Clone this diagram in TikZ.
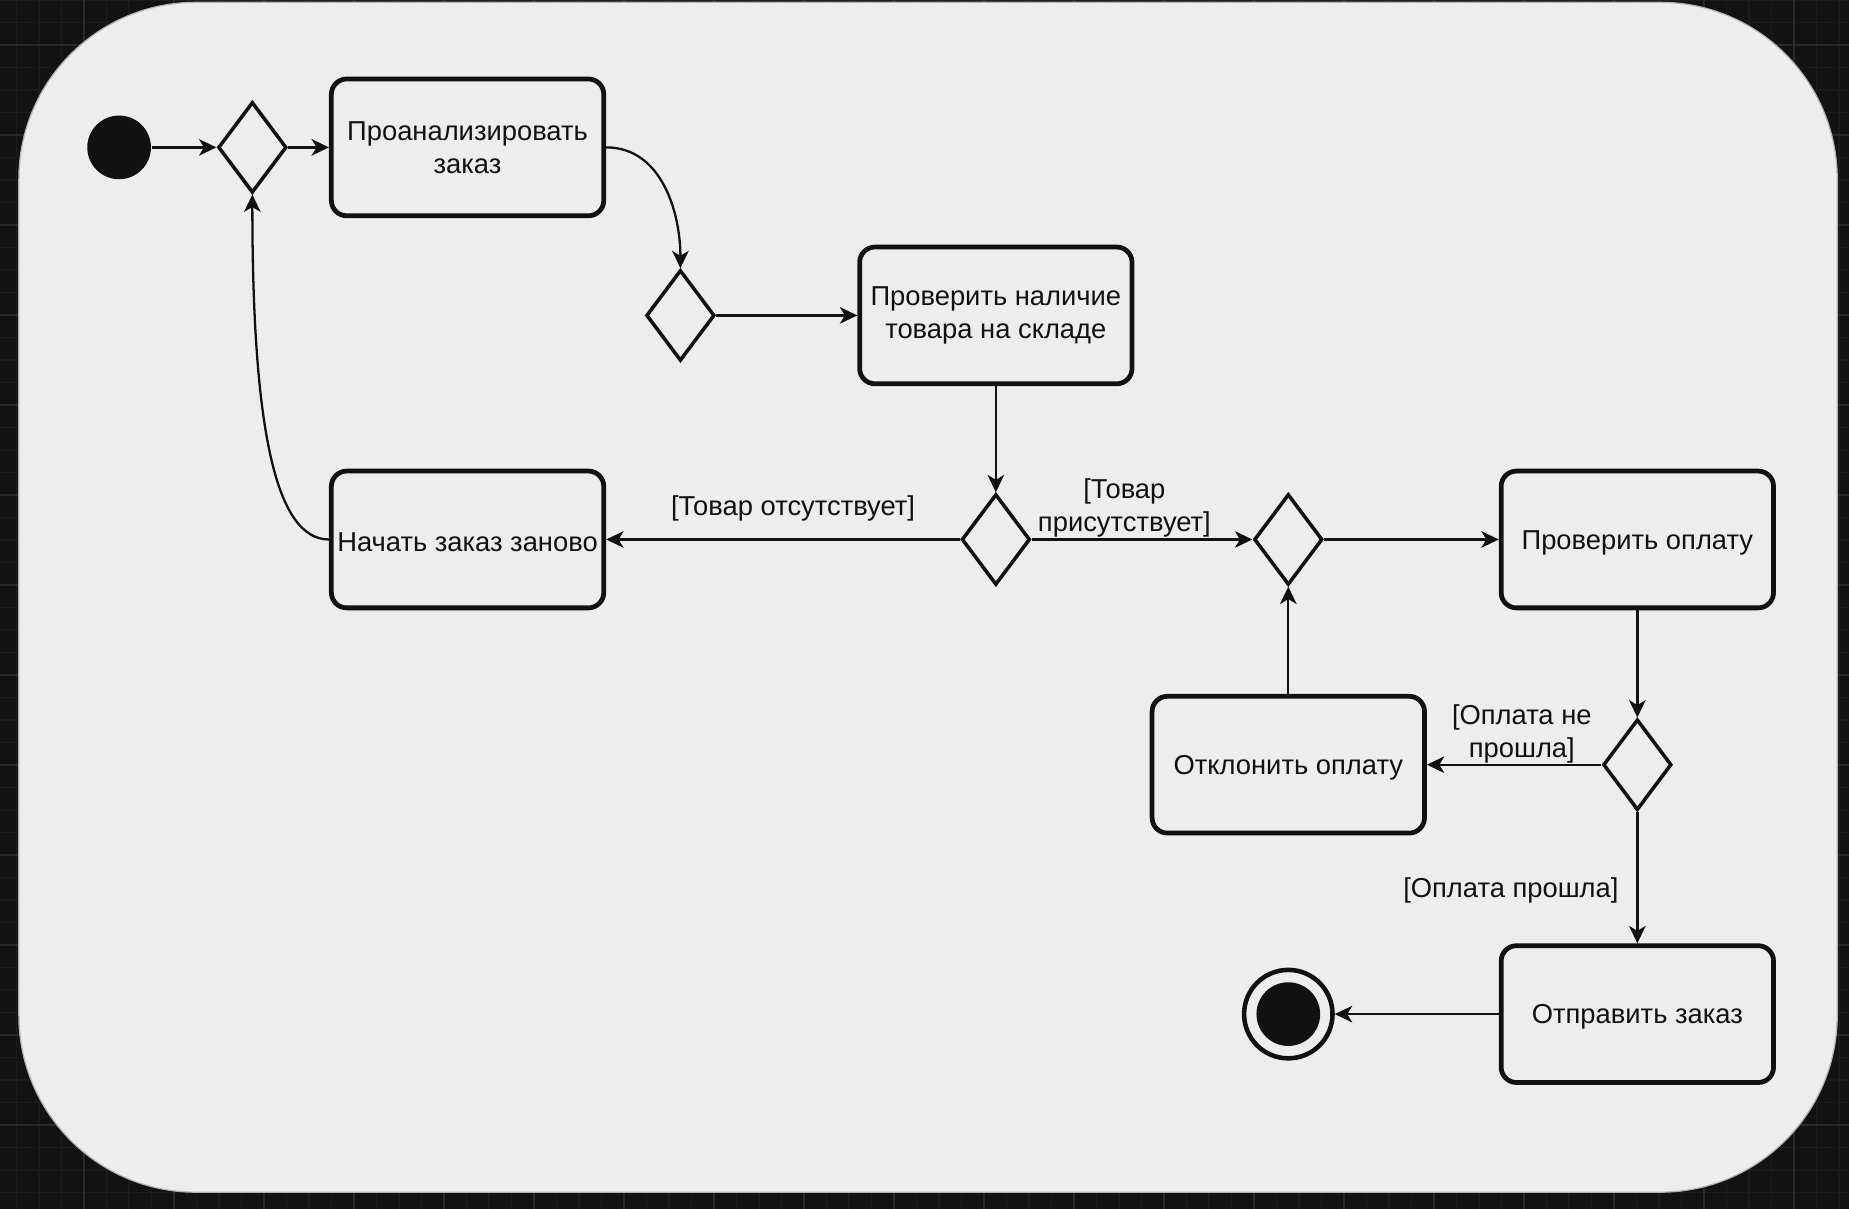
\documentclass[tikz,border=0pt]{standalone}
\usepackage{fontspec}
\setmainfont{Liberation Sans}
\usetikzlibrary{shapes.geometric, arrows.meta}
\tikzset{>={Stealth[length=4.2pt,width=4pt,inset=1.2pt]}}
\definecolor{bgdark}{HTML}{121212}
\definecolor{gridminor}{HTML}{1B1B1B}
\definecolor{gridmajor}{HTML}{2A2A2A}
\definecolor{panel}{HTML}{EDEDED}
\definecolor{ink}{HTML}{111111}
\tikzset{
    action/.style={draw=ink, line width=1.15pt, rounded corners=0.13cm, minimum width=2.31cm, minimum height=1.16cm, align=center, inner sep=0pt, text=ink, font=\fontsize{6.6}{8}\selectfont,
        execute at begin node={\rule{0pt}{6.1pt}}},
    decision/.style={diamond, draw=ink, line width=0.85pt, minimum width=0.58cm, minimum height=0.77cm, inner sep=0pt},
    flow/.style={->, draw=ink, line width=0.55pt},
    guard/.style={align=center, inner sep=0pt, text=ink, font=\fontsize{6.6}{8}\selectfont}
}

\begin{document}
\begin{tikzpicture}
    \useasboundingbox (0,0) rectangle (15.68,10.25);
    \fill[bgdark] (0,0) rectangle (15.68,10.25);
    \foreach \i in {-3,...,79}
    \draw[gridminor, line width=0.4pt] ({0.713+0.1908*\i},0) -- ({0.713+0.1908*\i},10.25);
    \foreach \j in {-3,...,50}
    \draw[gridminor, line width=0.4pt] (0,{0.71+0.1908*\j}) -- (15.68,{0.71+0.1908*\j});
    \foreach \i in {-1,...,20}
    \draw[gridmajor, line width=0.4pt] ({0.713+0.7632*\i},0) -- ({0.713+0.7632*\i},10.25);
    \foreach \j in {-1,...,13}
    \draw[gridmajor, line width=0.4pt] (0,{0.71+0.7632*\j}) -- (15.68,{0.71+0.7632*\j});
    \filldraw[fill=panel, draw=gray!60, line width=0.3pt, rounded corners=1.5cm] (0.16,0.14) rectangle (15.58,10.23);

    % initial and final states
    \node[circle, fill=ink, minimum size=0.54cm, inner sep=0pt] (start) at (1.01,9) {};
    \node[circle, draw=ink, line width=1.1pt, minimum size=0.75cm, inner sep=0pt,
        path picture={\fill[ink] (path picture bounding box.center) circle (0.27cm);}] (finish) at (10.925,1.65) {};

    % actions
    \node[action] (analyze) at (3.965,9) {Проанализировать\\заказ};
    \node[action] (stock) at (8.445,7.575) {Проверить наличие\\товара на складе};
    \node[action] (restart) at (3.965,5.675) {Начать заказ заново};
    \node[action] (pay) at (13.885,5.675) {Проверить оплату};
    \node[action] (reject) at (10.925,3.765) {Отклонить оплату};
    \node[action] (send) at (13.885,1.65) {Отправить заказ};

    % decisions
    \foreach \n/\x/\y in {d1/2.14/9, d2/5.77/7.575, d3/8.445/5.675, d4/10.925/5.675, d5/13.885/3.765}
    \node[decision] (\n) at (\x,\y) {};

    \foreach \a/\b in {start/d1, d1/analyze, d2/stock, stock/d3, d4/pay, pay/d5, reject/d4, send/finish}
    \draw[flow] (\a) -- (\b);
    \draw[flow] (analyze.east) to[out=0, in=90] (d2.north);
    \draw[flow] (restart.west) .. controls +(-0.45,0) and +(0,-2) .. (d1.south);
    \draw[flow] (d3) -- node[guard, xshift=0.085cm, yshift=0.26cm] {[Товар отсутствует]} (restart);
    \draw[flow] (d3) -- node[guard, xshift=-0.15cm, yshift=0.265cm] {[Товар\\присутствует]} (d4);
    \draw[flow] (d5) -- node[guard, xshift=0.065cm, yshift=0.26cm] {[Оплата не\\прошла]} (reject);
    \draw[flow] (d5) -- node[guard, anchor=east, xshift=-0.15cm, yshift=-0.105cm] {[Оплата прошла]} (send);
\end{tikzpicture}
\end{document}
